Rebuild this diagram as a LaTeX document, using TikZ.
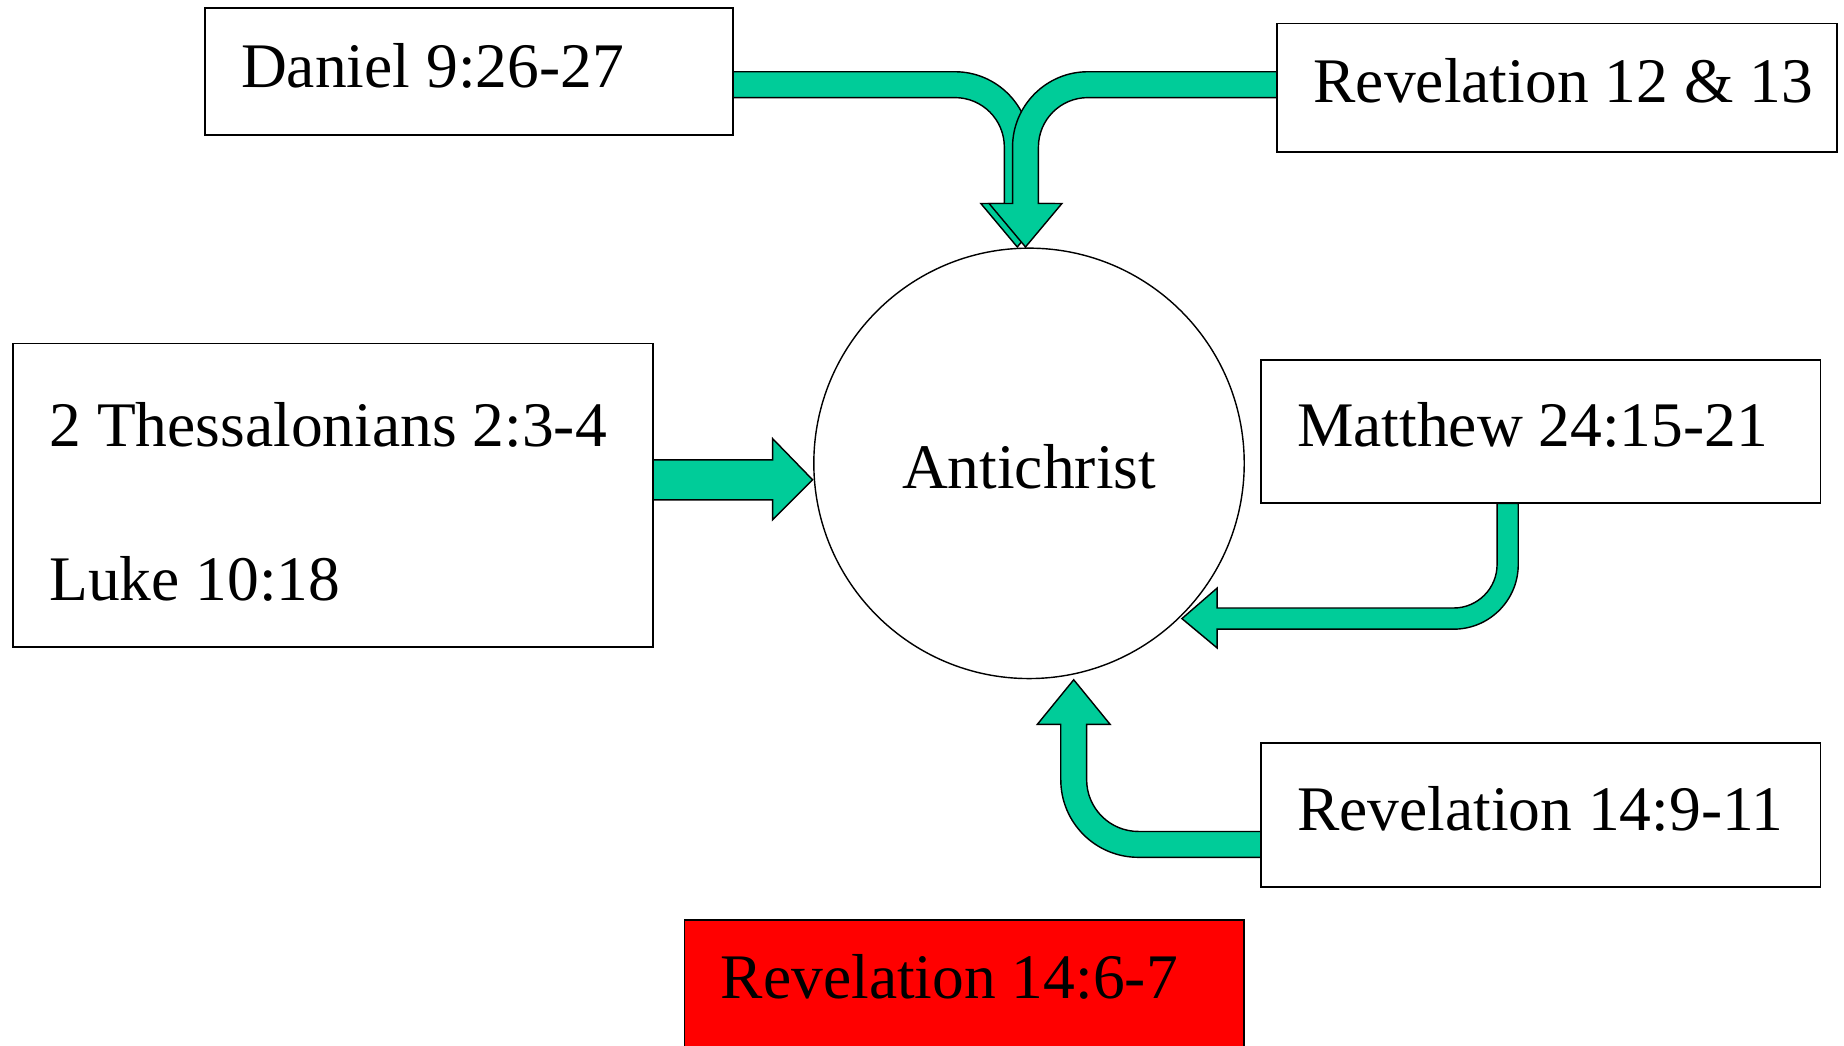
\documentclass[tikz,border=0pt]{standalone}
\usepackage{fontspec}
\setmainfont{Liberation Serif}
\definecolor{arrowgreen}{RGB}{0,204,153}
\definecolor{boxred}{RGB}{255,0,0}
\tikzset{
  refbox/.style={draw=black, line width=0.75pt, fill=white, rectangle, inner sep=0pt, outer sep=0pt, anchor=north west},
  reftext/.style={font=\fontsize{27}{32}\selectfont, anchor=base west, inner sep=0pt, outer sep=0pt},
  bigarrow/.style={draw=black, line width=0.6pt, fill=arrowgreen, line join=miter},
}
\begin{document}
\begin{tikzpicture}[x=0.5pt,y=-0.5pt]
\useasboundingbox (0,0) rectangle (1568,889);
\begin{scope}
\clip (0,0) rectangle (1568,889);
% arrows
% Daniel -> Antichrist
\path[bigarrow] (623,61) -- (812,61) .. controls (847.3,61) and (876,89.7) .. (876,125)
  -- (876,173) -- (896,173) -- (865,210) -- (834,173) -- (854,173) -- (854,125)
  .. controls (854,101.8) and (835.2,83) .. (812,83) -- (623,83) -- cycle;
% Revelation 12 & 13 -> Antichrist
\path[bigarrow] (1086,61) -- (925,61) .. controls (889.7,61) and (861,89.7) .. (861,125)
  -- (861,173) -- (841,173) -- (872,210) -- (903,173) -- (883,173) -- (883,125)
  .. controls (883,101.8) and (901.8,83) .. (925,83) -- (1086,83) -- cycle;
% 2 Thessalonians -> Antichrist
\path[bigarrow] (555,391) -- (657,391) -- (657,373) -- (691,408) -- (657,442) -- (657,425) -- (555,425) -- cycle;
% Matthew -> Antichrist
\path[bigarrow] (1273,428) -- (1291,428) -- (1291,480) .. controls (1291,510.4) and (1266.4,535) .. (1236,535)
  -- (1035,535) -- (1035,551) -- (1005,526) -- (1035,500) -- (1035,517) -- (1236,517)
  .. controls (1256.4,517) and (1273,500.4) .. (1273,480) -- cycle;
% Revelation 14:9-11 -> Antichrist
\path[bigarrow] (1072,707) -- (968,707) .. controls (943.7,707) and (924,687.3) .. (924,663)
  -- (924,616) -- (944,616) -- (913,578) -- (882,616) -- (902,616) -- (902,663)
  .. controls (902,699.5) and (931.5,729) .. (968,729) -- (1072,729) -- cycle;

% circle
\node[draw=black, line width=0.6pt, circle, minimum size=183pt, inner sep=0pt] (anti) at (875,394) {};
\node[reftext, anchor=base] (antitext) at (875,415) {Antichrist};

% boxes
\node[refbox, minimum width=224.5pt, minimum height=54pt] (dan) at (174,7) {};
\node[reftext] (dantext) at (205,74) {Daniel 9:26-27};

\node[refbox, minimum width=238pt, minimum height=54.5pt] (rev12) at (1086,20) {};
\node[reftext] (rev12text) at (1117,87) {Revelation 12 \& 13};

\node[refbox, minimum width=272pt, minimum height=129pt] (thess) at (11,292) {};
\node[reftext] (thesstext) at (42,380) {2 Thessalonians 2:3-4};
\node[reftext] (luketext) at (42,511) {Luke 10:18};

\node[refbox, minimum width=238pt, minimum height=61pt] (matt) at (1072,306) {};
\node[reftext] (matttext) at (1103,380) {Matthew 24:15-21};

\node[refbox, minimum width=238pt, minimum height=61pt] (rev149) at (1072,632) {};
\node[reftext] (rev149text) at (1103,706) {Revelation 14:9-11};

\node[refbox, fill=boxred, minimum width=238pt, minimum height=70pt] (rev146) at (582,782) {};
\node[reftext] (rev146text) at (613,849) {Revelation 14:6-7};
\end{scope}
\end{tikzpicture}
\end{document}
